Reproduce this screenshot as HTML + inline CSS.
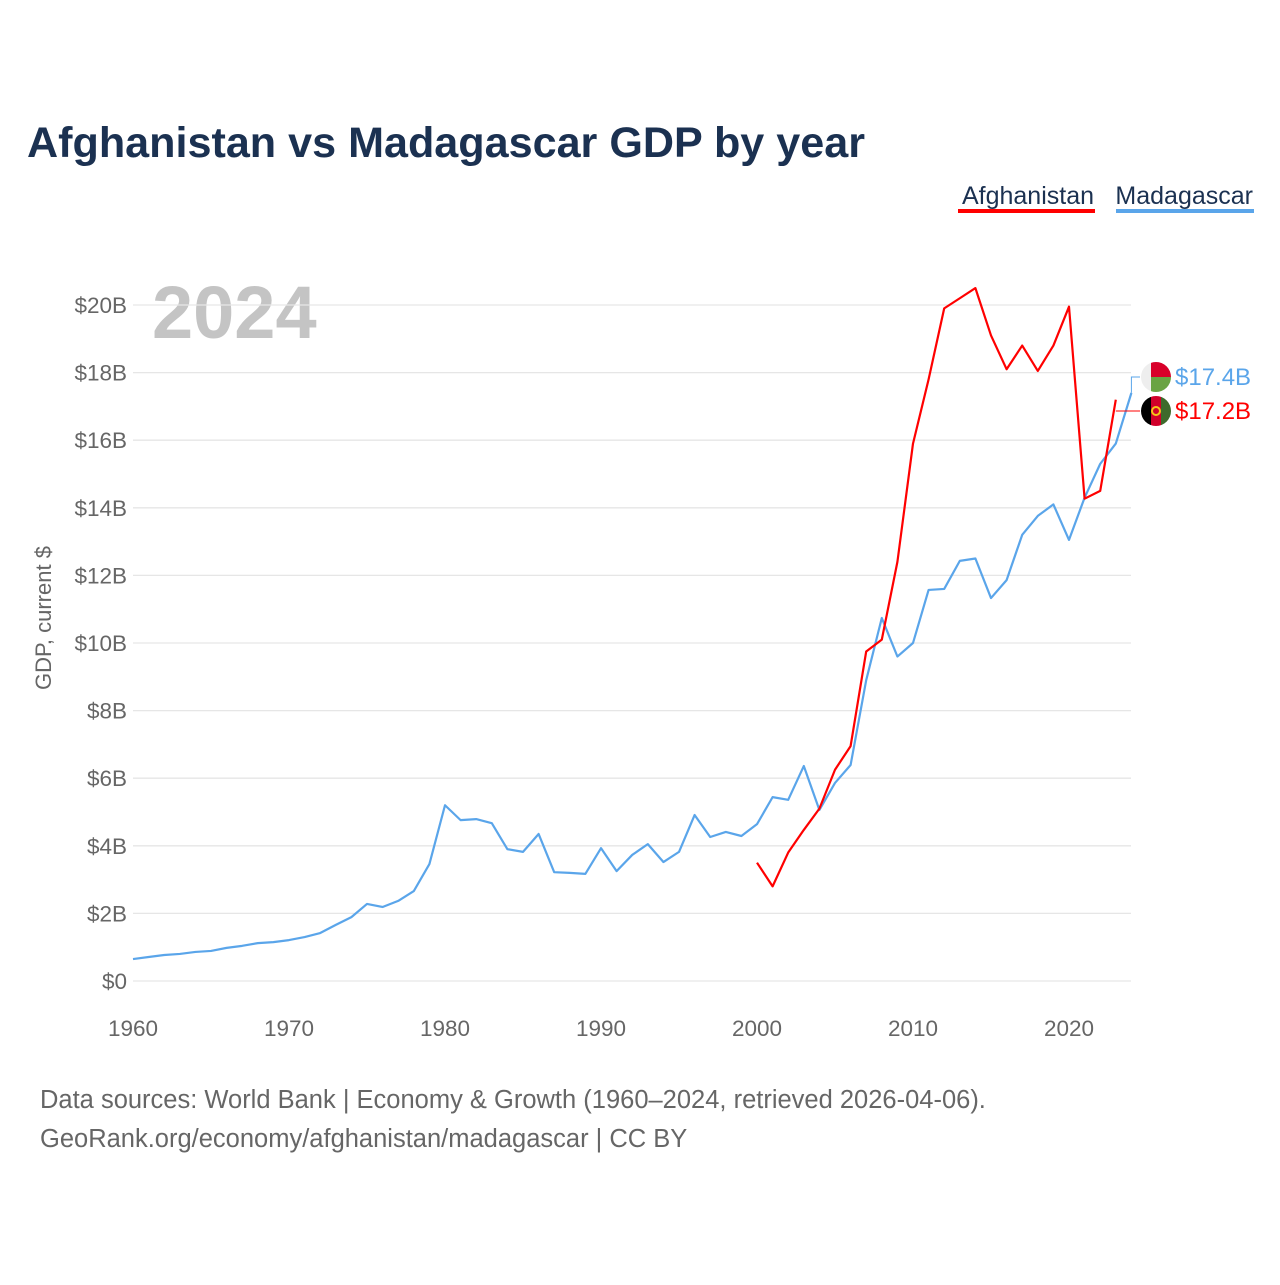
<!DOCTYPE html>
<html><head><meta charset="utf-8">
<style>
body{margin:0;background:#fff;font-family:"Liberation Sans",sans-serif;}
</style></head>
<body>
<svg width="1280" height="1280" viewBox="0 0 1280 1280" xmlns="http://www.w3.org/2000/svg">
<text x="27" y="157" font-size="43" font-weight="bold" fill="#1b3151" textLength="838" lengthAdjust="spacingAndGlyphs">Afghanistan vs Madagascar GDP by year</text>
<g>
<text x="1094" y="204" text-anchor="end" font-size="25" fill="#1b3151">Afghanistan</text>
<rect x="958" y="209" width="137" height="4" fill="#ff0000"/>
</g>
<g>
<text x="1253" y="204" text-anchor="end" font-size="25" fill="#1b3151">Madagascar</text>
<rect x="1116" y="209" width="138" height="4" fill="#5aa5ea"/>
</g>
<text x="152" y="338" font-size="74" font-weight="bold" fill="#c4c4c4">2024</text>
<g id="grid"></g>
<g id="yticks"></g>
<g id="xticks"></g>
<text transform="translate(51,618) rotate(-90)" text-anchor="middle" font-size="22" fill="#666">GDP, current $</text>
<g id="series"></g>
<g id="labels"></g>
<text x="40" y="1108" font-size="25.5" fill="#666">Data sources: World Bank | Economy &amp; Growth (1960–2024, retrieved 2026-04-06).</text>
<text x="40" y="1147" font-size="25.5" fill="#666">GeoRank.org/economy/afghanistan/madagascar | CC BY</text>
</svg>
<script>
const yTicks=[0,2,4,6,8,10,12,14,16,18,20];
const xTicks=[1960,1970,1980,1990,2000,2010,2020];
const madYears=[];for(let y=1960;y<=2024;y++)madYears.push(y);
const madagascar=[0.65,0.71,0.77,0.80,0.86,0.89,0.98,1.04,1.12,1.15,1.21,1.30,1.42,1.66,1.89,2.28,2.19,2.37,2.66,3.46,5.2,4.76,4.79,4.67,3.9,3.82,4.35,3.22,3.2,3.17,3.93,3.25,3.73,4.05,3.52,3.82,4.91,4.26,4.41,4.29,4.64,5.44,5.36,6.36,5.06,5.86,6.39,8.9,10.74,9.6,10.0,11.57,11.6,12.43,12.5,11.33,11.86,13.2,13.76,14.1,13.05,14.3,15.3,15.9,17.4];
const afgYears=[];for(let y=2000;y<=2023;y++)afgYears.push(y);
const afghanistan=[3.5,2.8,3.8,4.47,5.1,6.25,6.95,9.75,10.1,12.4,15.9,17.8,19.9,20.2,20.5,19.1,18.1,18.8,18.05,18.8,19.95,14.27,14.5,17.2];
const NS="http://www.w3.org/2000/svg";
const X=y=>133+(y-1960)*15.6;
const Y=v=>981-v*33.8;
function mk(t,a,p){const e=document.createElementNS(NS,t);for(const k in a)e.setAttribute(k,a[k]);p.appendChild(e);return e;}
const grid=document.getElementById('grid'),yt=document.getElementById('yticks'),xt=document.getElementById('xticks');
yTicks.forEach(v=>{
 const l=mk('line',{x1:133,x2:1131,y1:Y(v),y2:Y(v),stroke:'#e6e6e6','stroke-width':1.3},grid);
 
 
 const t=mk('text',{x:127,y:Y(v)+8,'text-anchor':'end','font-size':22.5,fill:'#666'},yt);
 t.textContent='$'+v+(v?'B':'');
 
 
});
xTicks.forEach(v=>{
 const t=mk('text',{x:X(v),y:1036,'text-anchor':'middle','font-size':22.5,fill:'#666'},xt);
 t.textContent=v;
 
 
});
const s=document.getElementById('series');
const pm=mk('polyline',{points:madYears.map((y,i)=>X(y)+','+Y(madagascar[i])).join(' '),fill:'none',stroke:'#5aa5ea','stroke-width':2.2,'stroke-linejoin':'round'},s);


const pa=mk('polyline',{points:afgYears.map((y,i)=>X(y)+','+Y(afghanistan[i])).join(' '),fill:'none',stroke:'#ff0000','stroke-width':2.2,'stroke-linejoin':'round'},s);


const lb=document.getElementById('labels');
const mLast=madagascar[madagascar.length-1],aLast=afghanistan[afghanistan.length-1];
const mx=X(madYears[madYears.length-1]),ax=X(afgYears[afgYears.length-1]);
const c1=mk('polyline',{points:`${mx},${Y(mLast)} ${mx},377 1140,377`,fill:'none',stroke:'#5aa5ea','stroke-width':1},lb);


const c2=mk('polyline',{points:`${ax},411 1140,411`,fill:'none',stroke:'#ff0000','stroke-width':1},lb);


const fm=mk('g',{},lb);


const cm=mk('clipPath',{id:'cm'},fm);mk('circle',{cx:1156,cy:377,r:15},cm);
const gm=mk('g',{'clip-path':'url(#cm)'},fm);
mk('rect',{x:1141,y:362,width:30,height:30,fill:'#eee'},gm);
mk('rect',{x:1151,y:362,width:20,height:15,fill:'#d8002a'},gm);
mk('rect',{x:1151,y:377,width:20,height:15,fill:'#6aa343'},gm);
const fa=mk('g',{},lb);


const ca=mk('clipPath',{id:'ca'},fa);mk('circle',{cx:1156,cy:411,r:15},ca);
const ga=mk('g',{'clip-path':'url(#ca)'},fa);
mk('rect',{x:1141,y:396,width:10,height:30,fill:'#000'},ga);
mk('rect',{x:1151,y:396,width:10,height:30,fill:'#d0002a'},ga);
mk('rect',{x:1161,y:396,width:10,height:30,fill:'#3e6a2c'},ga);
mk('circle',{cx:1156,cy:411,r:4,fill:'none',stroke:'#f5c518','stroke-width':2},ga);
const t1=mk('text',{x:1175,y:385,'font-size':24,fill:'#5aa5ea'},lb);
t1.textContent='$'+mLast.toFixed(1)+'B';


const t2=mk('text',{x:1175,y:419,'font-size':24,fill:'#ff0000'},lb);
t2.textContent='$'+aLast.toFixed(1)+'B';


</script>
</body></html>
